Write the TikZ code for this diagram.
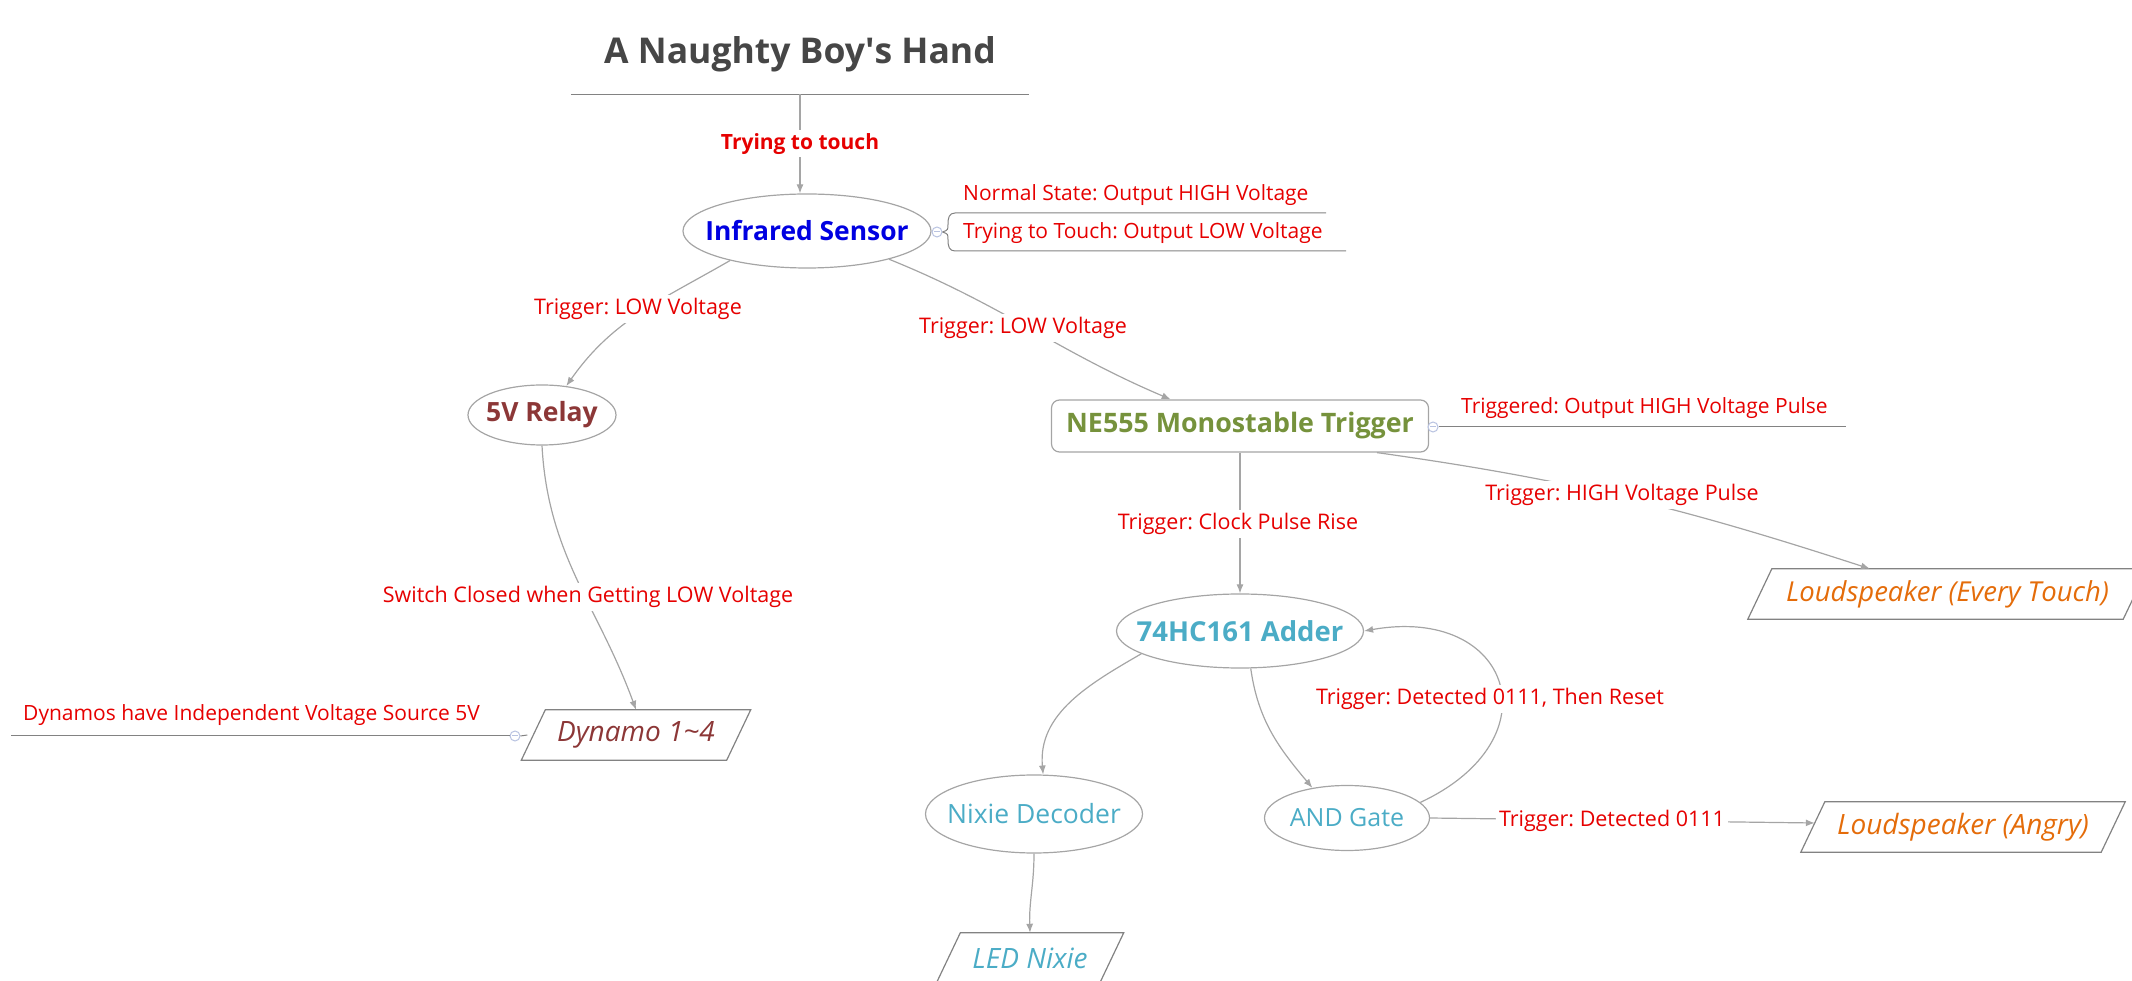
\documentclass[tikz,border=0pt]{standalone}
\usepackage{fontspec}
\setmainfont{Open Sans}
\usetikzlibrary{shapes.geometric,arrows.meta}
\definecolor{lblred}{RGB}{230,0,0}
\definecolor{linegray}{RGB}{165,165,165}
\definecolor{notegray}{RGB}{130,130,130}
\definecolor{titlegray}{RGB}{70,70,70}
\definecolor{irblue}{RGB}{0,0,225}
\definecolor{relaybrown}{RGB}{140,55,55}
\definecolor{negreen}{RGB}{118,146,60}
\definecolor{addteal}{RGB}{75,172,198}
\definecolor{spkorange}{RGB}{228,108,10}
\definecolor{circblue}{RGB}{185,195,225}
\newcommand{\fsz}[1]{\fontsize{#1}{#1}\selectfont}
\frenchspacing
\begin{document}
\begin{tikzpicture}[x=1pt,y=1pt,
  conn/.style={draw=linegray, line width=1.2pt, -{Latex[length=9pt,width=7pt]}},
  lbl/.style={text=lblred, font=\fsz{21.5}, fill=white, inner sep=3pt},
  note/.style={text=lblred, font=\fsz{21}, inner sep=0pt, anchor=west},
  noteline/.style={draw=notegray, line width=1pt},
  ell/.style={ellipse, draw=linegray, line width=1.2pt, inner sep=0pt},
  boxtext/.style={inner sep=0pt},
  para/.style={draw=notegray, line width=1.2pt},
  knob/.style={circle, draw=circblue, fill=white, line width=1pt, minimum size=10pt, inner sep=0pt},
]
\useasboundingbox (0,0) rectangle (2132,980);

% title
\node[rectangle, minimum width=458pt, minimum height=80pt, inner sep=0pt, font=\bfseries\fsz{35.5}, text=titlegray] (title) at (800,926) {A Naughty Boy\textquotesingle s Hand};
\draw[noteline] (title.south west) -- (title.south east);

% main nodes
\node[ell, minimum width=248pt, minimum height=74pt, text=irblue, font=\bfseries\fsz{26.4}] (ir) at (807,749) {\makebox[0pt]{Infrared Sensor}};
\node[ell, minimum width=148pt, minimum height=60pt, text=relaybrown, font=\bfseries\fsz{26.5}] (relay) at (542,565) {\makebox[0pt]{5V Relay}};
\node[draw=linegray, line width=1.2pt, rounded corners=8pt, minimum width=377pt, minimum height=52pt, inner sep=0pt, text=negreen, font=\bfseries\fsz{26.8}] (ne) at (1240,554) {\makebox[0pt]{NE555 Monostable Trigger}};
\node[ell, minimum width=247pt, minimum height=74pt, text=addteal, font=\bfseries\fsz{27.5}] (add) at (1240,349) {\makebox[0pt]{74HC161 Adder}};
\node[ell, minimum width=217pt, minimum height=78pt, text=addteal, font=\fsz{26.5}] (nix) at (1034,166) {\makebox[0pt]{Nixie Decoder}};
\node[ell, minimum width=165pt, minimum height=65pt, text=addteal, font=\fsz{25}] (and) at (1347,162) {\makebox[0pt]{AND Gate}};

% parallelogram nodes
\node[boxtext, minimum width=375pt, minimum height=50pt, text=spkorange, font=\itshape\fsz{27.5}] (spk1) at (1947.5,386) {\makebox[0pt]{Loudspeaker (Every Touch)}};
\node[boxtext, minimum width=300pt, minimum height=50pt, text=spkorange, font=\itshape\fsz{28}] (spk2) at (1963,153) {\makebox[0pt]{Loudspeaker (Angry)}};
\node[boxtext, minimum width=205pt, minimum height=50pt, text=relaybrown, font=\itshape\fsz{28}] (dyn) at (636,245) {\makebox[0pt]{Dynamo 1\textasciitilde 4}};
\node[boxtext, minimum width=163pt, minimum height=50pt, text=addteal, font=\itshape\fsz{28}] (led) at (1030,22) {\makebox[0pt]{LED Nixie}};
\foreach \n in {spk1,spk2,dyn,led}
  \draw[para] ([xshift=12pt]\n.north west) -- ([xshift=12pt]\n.north east) -- ([xshift=-12pt]\n.south east) -- ([xshift=-12pt]\n.south west) -- cycle;

% connectors
\draw[conn] (title.south) -- (title.south |- ir.north);
\draw[conn] (ir.201) to[out=210,in=55] (relay.50);
\draw[conn] (ir.-19) to[out=-22,in=157] (ne.159);
\draw[conn] (relay.south) to[out=-87,in=110] (dyn.north);
\draw[conn] (ne.south) -- (add.north);
\draw[conn] (ne.-11) to[out=-8,in=162] (spk1.162);
\draw[conn] (add.193) to[out=210,in=95] (nix.77);
\draw[conn] (add.-74) to[out=-82,in=130] (and.139);
\draw[conn] (and.12) to[out=25,in=10,distance=150pt] (add.east);
\draw[conn] (and.east) -- ([xshift=2pt,yshift=4pt]spk2.west);
\draw[conn] (nix.south) to[out=-90,in=92] (led.north);

% connector labels
\node[lbl, font=\bfseries\fsz{21}] (l0) at (800,836) {Trying to touch};
\node[lbl] (l1) at (638,671) {Trigger: LOW Voltage};
\node[lbl] (l2) at (1023,652) {Trigger: LOW Voltage};
\node[lbl] (l3) at (588,383) {Switch Closed when Getting LOW Voltage};
\node[lbl] (l4) at (1238,456) {Trigger: Clock Pulse Rise};
\node[lbl] (l5) at (1622,485) {Trigger: HIGH Voltage Pulse};
\node[lbl] (l6) at (1490,281) {Trigger: Detected 0111, Then Reset};
\node[lbl] (l7) at (1612,159) {Trigger: Detected 0111};

% notes
\node[knob] (k1) at (937,748) {};
\draw[circblue, line width=1pt] ([xshift=-3pt]k1.center) -- ([xshift=3pt]k1.center);
\node[note] (n1) at (963,785) {Normal State: Output HIGH Voltage};
\node[note] (n2) at (963,747) {Trying to Touch: Output LOW Voltage};
\draw[noteline] (1326,767) -- (955,767) .. controls (949,767) and (948,762) .. (948,756) .. controls (948,750) .. (k1.east);
\draw[noteline] (1346,729) -- (955,729) .. controls (949,729) and (948,734) .. (948,740) .. controls (948,746) .. (k1.east);

\node[knob] (k2) at (1433,553) {};
\draw[circblue, line width=1pt] ([xshift=-3pt]k2.center) -- ([xshift=3pt]k2.center);
\draw[noteline] (k2.east) -- (1846,553);
\node[note] (n3) at (1461,572) {Triggered: Output HIGH Voltage Pulse};

\node[knob] (k3) at (515,244) {};
\draw[circblue, line width=1pt] ([xshift=-3pt]k3.center) -- ([xshift=3pt]k3.center);
\draw[noteline] (11,244) -- (k3.west);
\draw[noteline] (k3.east) -- ([xshift=-6pt]dyn.west);
\node[note] (n4) at (23,265) {Dynamos have Independent Voltage Source 5V};
\end{tikzpicture}
\end{document}
